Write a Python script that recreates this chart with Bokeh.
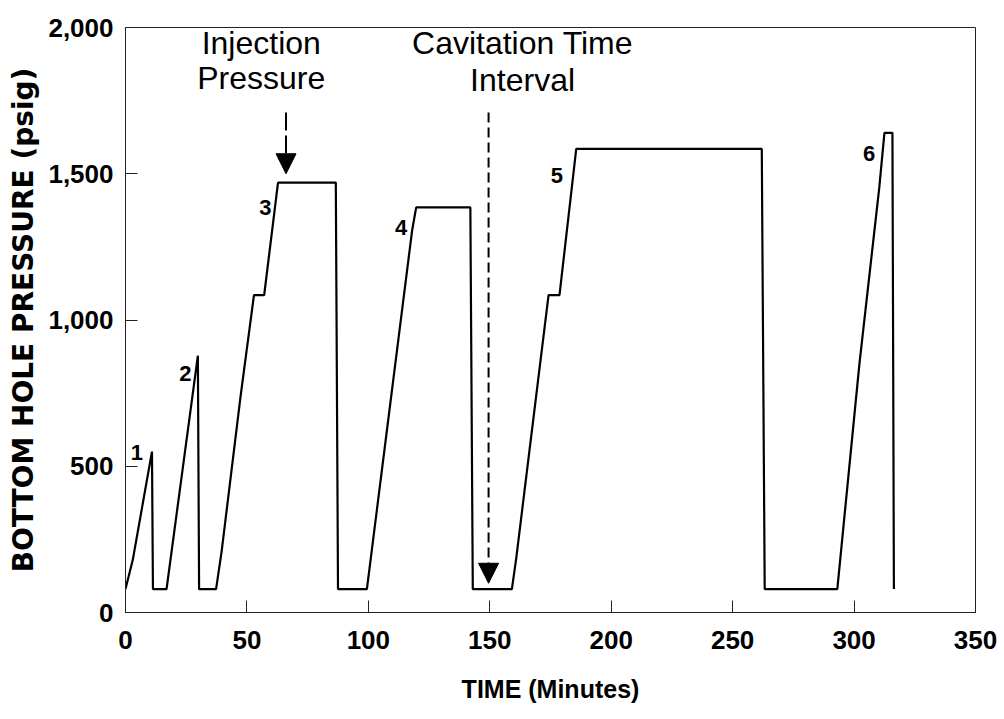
from bokeh.plotting import figure
from bokeh.models import Arrow, NormalHead, Label, NumeralTickFormatter, FixedTicker, Range1d, ColumnDataSource
from bokeh.core.properties import value
from bokeh.embed import file_html
from bokeh.resources import INLINE

# ---- data ----
time_min = [0, 3.0, 10.9, 11.3, 16.9, 29.8, 30.3, 37.3, 39.6, 47.3, 52.9, 57.1, 62.8,
            86.6, 87.5, 99.4, 118.0, 119.7, 142.0, 143.0, 159.1, 160.9, 174.2, 178.7,
            185.6, 262.0, 263.2, 293.1, 302.2, 310.4, 312.5, 315.8, 316.4]
pressure_psig = [80, 180, 550, 80, 80, 878, 80, 80, 210, 734, 1085, 1085, 1470,
                 1470, 80, 80, 1305, 1385, 1385, 80, 80, 186, 1085, 1085,
                 1585, 1585, 80, 80, 850, 1454, 1640, 1640, 80]

cycle_labels = ["1", "2", "3", "4", "5", "6"]
cycle_x = [4.7, 24.6, 57.6, 113.5, 177.6, 306.2]
cycle_y = [548, 817, 1386, 1317, 1494, 1568]

x_ticks = [0, 50, 100, 150, 200, 250, 300, 350]
y_ticks = [0, 500, 1000, 1500, 2000]

injection_arrow = {"x": 66.1, "y_start": 1709, "y_end": 1500}
cavitation_arrow = {"x": 149.5, "y_start": 1709, "y_end": 100}

# ---- figure ----
p = figure(width=1000, height=717, x_range=Range1d(0, 350), y_range=Range1d(0, 2000),
           output_backend="svg", toolbar_location=None,
           min_border_left=125, min_border_right=25, min_border_top=27, min_border_bottom=105)
p.xgrid.visible = False
p.ygrid.visible = False
p.outline_line_color = "#222222"
p.outline_line_width = 1
p.background_fill_color = "white"
p.border_fill_color = "white"

for ax in (p.xaxis, p.yaxis):
    ax.minor_tick_line_color = None
    ax.major_tick_in = 12
    ax.major_tick_out = 0
    ax.major_tick_line_color = "#222222"
    ax.axis_line_color = "#222222"
    ax.major_label_text_font = "Liberation Sans"
    ax.major_label_text_font_style = "bold"
    ax.major_label_text_font_size = "26px"
    ax.major_label_text_color = "black"
    ax.axis_label_text_color = "black"
    ax.axis_label_text_font_style = "bold"

p.xaxis.ticker = FixedTicker(ticks=x_ticks)
p.yaxis.ticker = FixedTicker(ticks=y_ticks)
p.yaxis.formatter = NumeralTickFormatter(format="0,0")
p.xaxis.major_label_standoff = 18
p.yaxis.major_label_standoff = 12

p.xaxis.axis_label = "TIME (Minutes)"
p.xaxis.axis_label_text_font = "Liberation Sans"
p.xaxis.axis_label_text_font_size = "25px"
p.xaxis.axis_label_standoff = 23

p.yaxis.axis_label = "BOTTOM HOLE PRESSURE (psig)"
p.yaxis.axis_label_text_font = "DejaVu Sans"
p.yaxis.axis_label_text_font_size = "28px"
p.yaxis.axis_label_standoff = 5

p.line(time_min, pressure_psig, line_color="black", line_width=2.2)

src = ColumnDataSource(dict(x=cycle_x, y=cycle_y, t=cycle_labels))
p.text(x="x", y="y", text="t", source=src, text_font=value("Liberation Sans"),
       text_font_style="bold", text_font_size="22px", text_align="center",
       text_baseline="middle", text_color="black")

for txt, xx, yy in [("Injection", 55.9, 1947), ("Pressure", 55.9, 1827),
                    ("Cavitation Time", 163.5, 1947), ("Interval", 163.5, 1821)]:
    p.add_layout(Label(x=xx, y=yy, text=txt, text_align="center", text_baseline="alphabetic",
                       text_font="Liberation Sans", text_font_size="32px", text_color="black"))

p.add_layout(Arrow(end=NormalHead(size=20, fill_color="black", line_color="black"),
                   x_start=injection_arrow["x"], y_start=injection_arrow["y_start"],
                   x_end=injection_arrow["x"], y_end=injection_arrow["y_end"],
                   line_dash="18 5", line_width=2, line_color="black"))
p.add_layout(Arrow(end=NormalHead(size=20, fill_color="black", line_color="black"),
                   x_start=cavitation_arrow["x"], y_start=cavitation_arrow["y_start"],
                   x_end=cavitation_arrow["x"], y_end=cavitation_arrow["y_end"],
                   line_dash="10 5", line_width=2, line_color="black"))

open("out.html", "w").write(file_html(p, INLINE))
